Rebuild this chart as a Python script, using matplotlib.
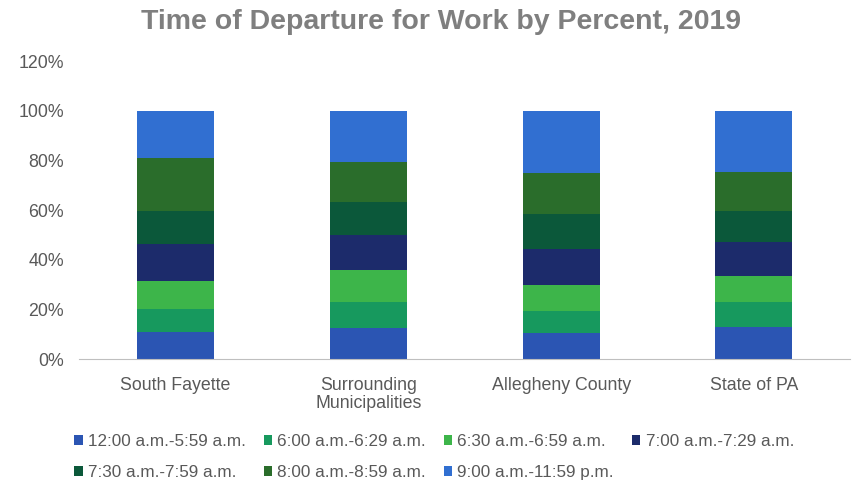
import matplotlib
matplotlib.use("Agg")
import matplotlib.pyplot as plt
import numpy as np

plt.rcParams['font.family'] = ['Liberation Sans', 'DejaVu Sans']

categories = ["South Fayette", "Surrounding\nMunicipalities", "Allegheny County", "State of PA"]
series_names = ["12:00 a.m.-5:59 a.m.", "6:00 a.m.-6:29 a.m.", "6:30 a.m.-6:59 a.m.",
                "7:00 a.m.-7:29 a.m.", "7:30 a.m.-7:59 a.m.", "8:00 a.m.-8:59 a.m.",
                "9:00 a.m.-11:59 p.m."]
t_0000 = [11.0, 12.7, 10.7, 13.0]
t_0600 = [9.3, 10.3, 8.7, 9.8]
t_0630 = [11.0, 12.7, 10.6, 10.5]
t_0700 = [14.9, 14.1, 14.5, 13.8]
t_0730 = [13.6, 13.4, 14.0, 12.7]
t_0800 = [21.2, 16.0, 16.3, 15.7]
t_0900 = [19.0, 20.8, 25.2, 24.5]
series = [t_0000, t_0600, t_0630, t_0700, t_0730, t_0800, t_0900]
colors = ["#2b55b3", "#17995e", "#3db54a", "#1c2b6b", "#0b583a", "#2a6d2b", "#316fd1"]

fig = plt.figure(figsize=(8.52, 4.82), dpi=100)
ax = fig.add_axes([0.093, 0.255, 0.905, 0.618])

x = np.arange(len(categories))
bottom = np.zeros(len(categories))
handles = []
for name, vals, c in zip(series_names, series, colors):
    v = np.array(vals) / 100.0
    b = ax.bar(x, v, 0.4, bottom=bottom, color=c, label=name)
    handles.append(b)
    bottom += v

ax.set_xlim(-0.5, 3.5)
ax.set_ylim(0, 1.2)
ax.set_yticks(np.arange(0, 1.21, 0.2))
ax.set_yticklabels([f"{int(round(t*100))}%" for t in np.arange(0, 1.21, 0.2)])
ax.set_xticks(x)
ax.set_xticklabels(categories, linespacing=1.05)
for s in ['top', 'right', 'left']:
    ax.spines[s].set_visible(False)
ax.spines['bottom'].set_color('#bfbfbf')
ax.tick_params(axis='both', length=0, labelsize=12.8, labelcolor='#595959')
ax.tick_params(axis='x', pad=13)
ax.tick_params(axis='y', pad=11)

fig.suptitle("Time of Departure for Work by Percent, 2019", x=0.518, y=0.982,
             fontsize=20.5, fontweight='bold', color='#7f7f7f')

order = [0, 4, 1, 5, 2, 6, 3]
leg = fig.legend([handles[i] for i in order], [series_names[i] for i in order],
                 ncol=4, loc='upper left', bbox_to_anchor=(0.087, 0.1),
                 frameon=False, fontsize=12.3, handlelength=0.5, handleheight=0.5,
                 handletextpad=0.3, columnspacing=1.05, labelspacing=0.95,
                 borderaxespad=0, borderpad=0)
for t in leg.get_texts():
    t.set_color('#595959')

fig.savefig("out.png", dpi=100)
